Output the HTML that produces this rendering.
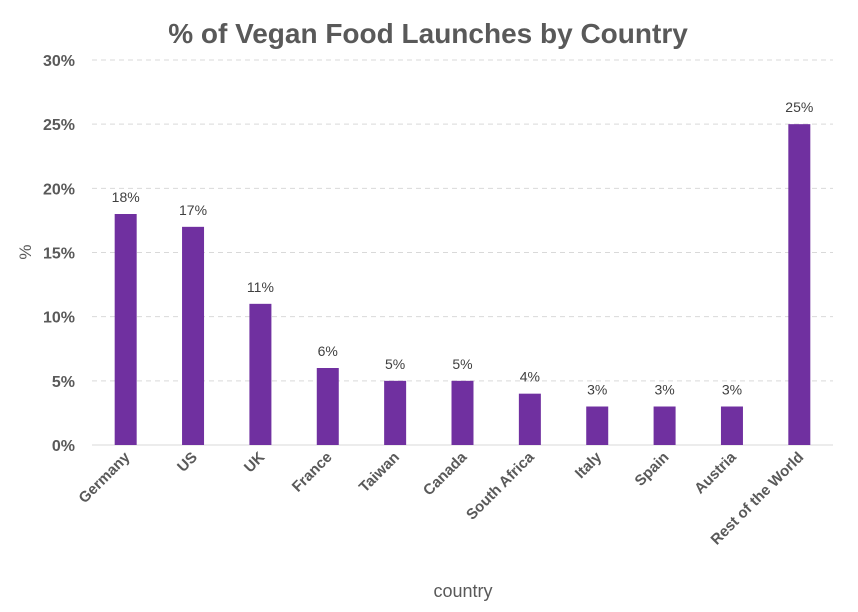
<!DOCTYPE html>
<html><head><meta charset="utf-8"><style>
body{margin:0;background:#fff;}
svg{display:block;font-family:"Liberation Sans",sans-serif;}
</style></head><body>
<svg id="chart" width="858" height="612">
<text x="428" y="43" text-anchor="middle" font-size="28" font-weight="bold" fill="#595959">% of Vegan Food Launches by Country</text>
<text x="0" y="0" transform="translate(31,252) rotate(-90)" text-anchor="middle" font-size="17" fill="#595959">%</text>
<text x="463" y="597" text-anchor="middle" font-size="18" fill="#595959">country</text>
<g id="grid"></g><g id="bars"></g><g id="xlabels"></g>
</svg>
<script>
const categories=["Germany","US","UK","France","Taiwan","Canada","South Africa","Italy","Spain","Austria","Rest of the World"];
const values=[18,17,11,6,5,5,4,3,3,3,25];
const yTicks=[0,5,10,15,20,25,30];
const NS="http://www.w3.org/2000/svg";
const x0=92,x1=833,y0=445,y1=60,yMax=30;
const band=(x1-x0)/categories.length;
function xs(i){return x0+band*(i+0.5);}
function ys(v){return y0-(y0-y1)*v/yMax;}
function mk(t,a,p){const e=document.createElementNS(NS,t);for(const k in a)e.setAttribute(k,a[k]);p.appendChild(e);return e;}
const grid=document.getElementById('grid'),bars=document.getElementById('bars'),xl=document.getElementById('xlabels');
yTicks.forEach(v=>{
  const l=mk('line',{x1:x0,x2:x1,y1:ys(v),y2:ys(v),stroke:v===0?'#d9d9d9':'#d9d9d9','stroke-dasharray':v===0?'':'5,4'},grid);
  
  
  const t=mk('text',{x:75,y:ys(v)+6,'text-anchor':'end','font-size':16,'font-weight':'bold',fill:'#595959'},grid);
  t.textContent=v+'%';
  
  
});
values.forEach((v,i)=>{
  const r=mk('rect',{x:xs(i)-11,y:ys(v),width:22,height:y0-ys(v),fill:'#7030A0'},bars);
  
  
  const t=mk('text',{x:xs(i),y:ys(v)-12,'text-anchor':'middle','font-size':14,fill:'#404040'},bars);
  t.textContent=v+'%';
  
  
  const c=mk('text',{transform:'translate('+(xs(i)+5)+',458) rotate(-45)','text-anchor':'end','font-size':15,'font-weight':'bold',fill:'#595959'},xl);
  c.textContent=categories[i];
  
  
});
</script>
</body></html>
